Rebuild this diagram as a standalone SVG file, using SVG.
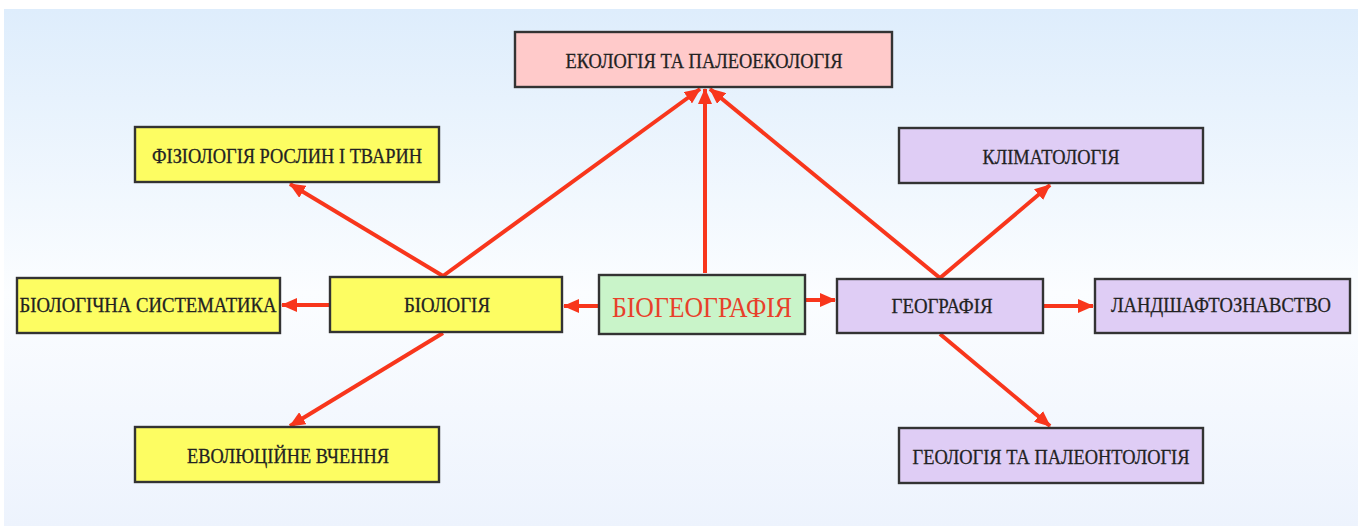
<svg xmlns="http://www.w3.org/2000/svg" width="1360" height="526" viewBox="0 0 1360 526">
<defs>
<linearGradient id="bg" x1="0" y1="0" x2="0" y2="1">
<stop offset="0" stop-color="#deedfc"/>
<stop offset="0.55" stop-color="#fbfdff"/>
<stop offset="1" stop-color="#edf3fd"/>
</linearGradient>
<marker id="ah" markerUnits="userSpaceOnUse" markerWidth="16" markerHeight="14" viewBox="0 0 16 14" refX="15" refY="7" orient="auto">
<path d="M0,0 L16,7 L0,14 z" fill="#f8361c"/>
</marker>
<style>
.box{stroke:#333;stroke-width:2.4}
.y{fill:#fdfd62}
.v{fill:#dfcdf5}
.p{fill:#ffcaca}
.g{fill:#c9f4c9}
.t{font-family:"Liberation Serif","Times New Roman",serif;font-size:21px;fill:#222;text-anchor:middle;stroke:#222;stroke-width:0.3}
.c line{stroke:#f8361c;stroke-width:4;marker-end:url(#ah)}
</style>
</defs>
<rect x="0" y="0" width="1360" height="526" fill="#ffffff"/>
<rect x="4" y="9" width="1354" height="517" fill="url(#bg)"/>
<g class="c" id="connectors">
<line x1="705" y1="273" x2="705" y2="89"/>
<line x1="443" y1="276" x2="700" y2="89"/>
<line x1="940" y1="278" x2="710" y2="89"/>
<line x1="443" y1="276" x2="290" y2="184"/>
<line x1="330" y1="305" x2="282" y2="305"/>
<line x1="443" y1="333" x2="290" y2="426"/>
<line x1="599" y1="306" x2="564" y2="306"/>
<line x1="805" y1="300" x2="835" y2="300"/>
<line x1="940" y1="278" x2="1050" y2="185"/>
<line x1="1044" y1="306" x2="1093" y2="306"/>
<line x1="940" y1="334" x2="1050" y2="426"/>
</g>
<g id="ecology"><rect class="box p" x="515" y="32" width="377" height="55"/><text class="t" x="704" y="68" textLength="277" lengthAdjust="spacingAndGlyphs">ЕКОЛОГІЯ ТА ПАЛЕОЕКОЛОГІЯ</text></g>
<g id="physiology"><rect class="box y" x="135" y="127" width="304" height="55"/><text class="t" x="287" y="163" textLength="270" lengthAdjust="spacingAndGlyphs">ФІЗІОЛОГІЯ РОСЛИН І ТВАРИН</text></g>
<g id="climatology"><rect class="box v" x="899" y="128" width="304" height="55"/><text class="t" x="1051" y="164" textLength="137" lengthAdjust="spacingAndGlyphs">КЛІМАТОЛОГІЯ</text></g>
<g id="systematics"><rect class="box y" x="17" y="278" width="263" height="55"/><text class="t" x="148" y="312" textLength="257" lengthAdjust="spacingAndGlyphs">БІОЛОГІЧНА СИСТЕМАТИКА</text></g>
<g id="biology"><rect class="box y" x="330" y="277" width="232" height="55"/><text class="t" x="447" y="312" textLength="86" lengthAdjust="spacingAndGlyphs">БІОЛОГІЯ</text></g>
<g id="biogeography"><rect class="box g" x="599" y="275" width="206" height="59"/><text class="t" x="702" y="317" style="font-size:30px;fill:#e8402a;stroke:none" textLength="180" lengthAdjust="spacingAndGlyphs">БІОГЕОГРАФІЯ</text></g>
<g id="geography"><rect class="box v" x="837" y="279" width="206" height="54"/><text class="t" x="942" y="313" textLength="101" lengthAdjust="spacingAndGlyphs">ГЕОГРАФІЯ</text></g>
<g id="landscape"><rect class="box v" x="1095" y="279" width="255" height="54"/><text class="t" x="1221" y="312" textLength="220" lengthAdjust="spacingAndGlyphs">ЛАНДШАФТОЗНАВСТВО</text></g>
<g id="evolution"><rect class="box y" x="135" y="427" width="304" height="55"/><text class="t" x="288" y="463" textLength="202" lengthAdjust="spacingAndGlyphs">ЕВОЛЮЦІЙНЕ ВЧЕННЯ</text></g>
<g id="geology"><rect class="box v" x="899" y="428" width="304" height="55"/><text class="t" x="1051" y="464" textLength="277" lengthAdjust="spacingAndGlyphs">ГЕОЛОГІЯ ТА ПАЛЕОНТОЛОГІЯ</text></g>
</svg>
